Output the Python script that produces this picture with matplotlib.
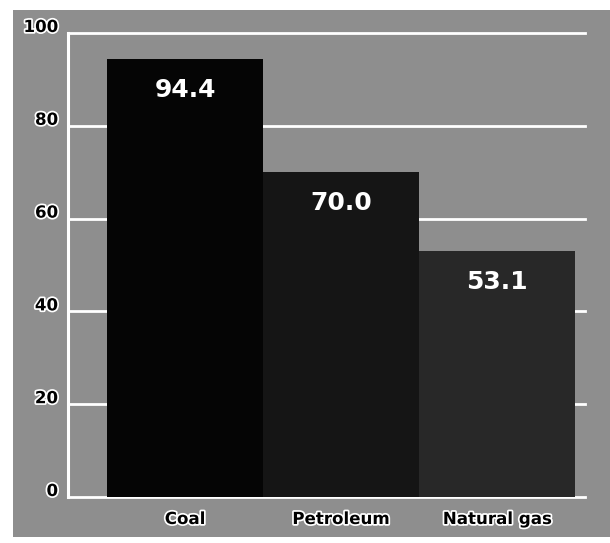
import matplotlib
matplotlib.use("Agg")
import matplotlib.pyplot as plt
from matplotlib.patches import Rectangle
import matplotlib.patheffects as pe
from matplotlib.transforms import offset_copy

# Data
categories = ["Coal", "Petroleum", "Natural gas"]
values = [94.4, 70.0, 53.1]
value_labels = ["94.4", "70.0", "53.1"]
y_ticks = [0, 20, 40, 60, 80, 100]
y_tick_labels = ["0", "20", "40", "60", "80", "100"]

bar_colors = ["#050505", "#151515", "#282828"]
panel_color = "#8e8e8e"

W, H = 610, 543
fig = plt.figure(figsize=(W / 100, H / 100), dpi=100)
fig.patch.set_facecolor("white")

# grey backing panel in its own axes behind the chart
bg = fig.add_axes([0, 0, 1, 1], zorder=-5)
bg.set_axis_off()
bg.set_xlim(0, W)
bg.set_ylim(H, 0)
bg.add_patch(Rectangle((13, 10), W - 13, 527, facecolor=panel_color,
                       edgecolor="none"))

ax = fig.add_axes([68 / W, 1 - 497 / H, (585 - 68) / W, (497 - 33) / H], zorder=1)
ax.set_facecolor("none")
ax.set_xlim(-0.75, 2.564)
ax.set_ylim(0, 100)

for s in ["top", "right", "bottom"]:
    ax.spines[s].set_visible(False)
ax.spines["left"].set_color("white")
ax.spines["left"].set_linewidth(2.2)

# white gridlines
for t in y_ticks:
    ax.axhline(t, color="white", lw=2.0, zorder=1, clip_on=False)

x = list(range(len(categories)))
bars = ax.bar(x, values, width=1.0, color=bar_colors, zorder=2)

# value labels inside the bars
for b, v, txt in zip(bars, values, value_labels):
    cx = b.get_x() + b.get_width() / 2
    tr = offset_copy(ax.transData, fig=fig, x=0, y=-31, units="dots")
    ax.text(cx, v, txt, transform=tr, ha="center", va="center",
            color="white", fontsize=18, fontweight="bold",
            family="DejaVu Sans", zorder=3)

ax.set_xticks([])
ax.set_yticks([])

halo = [pe.withStroke(linewidth=2.5, foreground="white")]

# y tick labels
for t, lab in zip(y_ticks, y_tick_labels):
    tr = offset_copy(ax.transData, fig=fig, x=-10, y=6, units="dots")
    ax.text(-0.75, t, lab, transform=tr, ha="right", va="center",
            fontsize=12, fontweight="bold", color="black",
            family=["DejaVu Sans"], path_effects=halo, clip_on=False)

# category labels under each bar
for xi, lab in zip(x, categories):
    tr = offset_copy(ax.transData, fig=fig, x=0, y=-22, units="dots")
    ax.text(xi, 0, lab, transform=tr, ha="center", va="center",
            fontsize=12, fontweight="bold", color="black",
            family=["DejaVu Sans"], path_effects=halo, clip_on=False)

fig.savefig("out.png", dpi=100, facecolor=fig.get_facecolor())
